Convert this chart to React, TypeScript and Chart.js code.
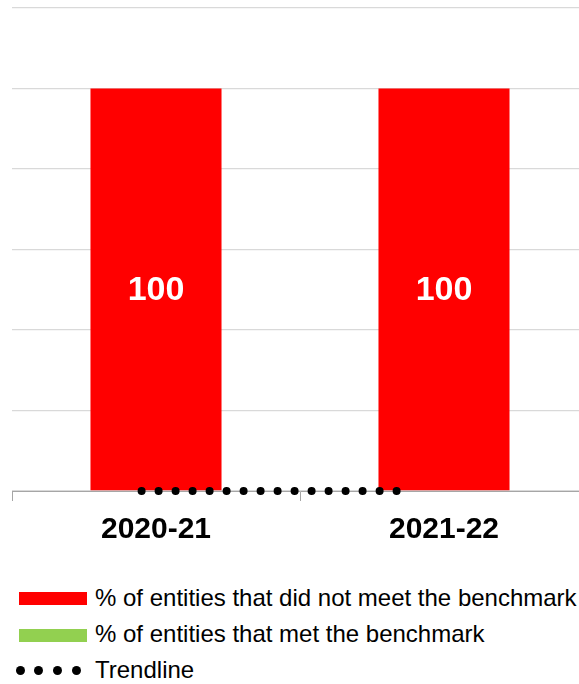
import React, { useEffect, useRef } from "react";
import { Chart, registerables } from "chart.js";

Chart.register(...registerables);

const categories = ["2020-21", "2021-22"];
const notMetValues = [100, 100];
const metValues = [0, 0];
const trendX = [-0.05, 0.84];
const trendY = [0, 0];
const yTicks = [0, 20, 40, 60, 80, 100, 120];

const seriesNames = [
  "% of entities that did not meet the benchmark",
  "% of entities that met the benchmark",
  "Trendline",
];

const RED = "#ff0000";
const GREEN = "#92d050";
const FONT = "'Liberation Sans', Arial, sans-serif";

const valueLabels = {
  id: "valueLabels",
  afterDatasetsDraw(chart: any) {
    const ctx = chart.ctx;
    const dsIndex = chart.data.datasets.findIndex((d: any) => d.label === seriesNames[0]);
    const meta = chart.getDatasetMeta(dsIndex);
    ctx.save();
    ctx.fillStyle = "#ffffff";
    ctx.font = `bold 34px ${FONT}`;
    ctx.textAlign = "center";
    ctx.textBaseline = "middle";
    meta.data.forEach((el: any, i: number) => {
      const v = notMetValues[i];
      if (!v) return;
      ctx.fillText(String(v), el.x, (el.y + el.base) / 2 + 1);
    });
    ctx.restore();
  },
};

export default function App() {
  const ref = useRef<HTMLCanvasElement | null>(null);
  useEffect(() => {
    if (!ref.current) return;
    const chart = new Chart(ref.current, {
      type: "bar",
      data: {
        labels: categories,
        datasets: [
          {
            label: seriesNames[0],
            data: notMetValues,
            backgroundColor: RED,
            stack: "s",
            grouped: false,
            order: 1,
          } as any,
          {
            label: seriesNames[1],
            data: metValues,
            backgroundColor: GREEN,
            stack: "s",
            grouped: false,
            order: 1,
          } as any,
          {
            type: "line" as any,
            label: seriesNames[2],
            data: trendX.map((x, i) => ({ x, y: trendY[i] })) as any,
            xAxisID: "xT",
            stack: "t",
            borderColor: "#000000",
            borderWidth: 8,
            borderDash: [0, 17],
            borderCapStyle: "round",
            pointRadius: 0,
            fill: false,
            clip: false as any,
            order: 0,
          } as any,
        ],
      },
      options: {
        animation: false,
        responsive: true,
        maintainAspectRatio: false,
        layout: { padding: { left: 12, right: 0, top: 8, bottom: 0 } },
        plugins: { legend: { display: false }, tooltip: { enabled: false } },
        datasets: { bar: { categoryPercentage: 1, barPercentage: 0.455 } },
        scales: {
          x: {
            stacked: true,
            offset: true,
            border: { display: true, color: "#a6a6a6", width: 1 },
            grid: {
              display: true,
              offset: true,
              drawOnChartArea: false,
              drawTicks: true,
              tickLength: 10,
              color: "#a6a6a6",
            },
            ticks: {
              color: "#000000",
              font: { family: FONT, size: 30, weight: "bold" },
              padding: 11,
            },
          },
          xT: {
            type: "linear",
            display: false,
            offset: false,
            grid: { offset: false },
            min: -0.5,
            max: 1.5,
          },
          y: {
            stacked: true,
            min: yTicks[0],
            max: yTicks[yTicks.length - 1],
            afterBuildTicks: (s: any) => {
              s.ticks = yTicks.map((v) => ({ value: v }));
            },
            border: { display: false },
            grid: { color: "#d9d9d9", lineWidth: 1.3, drawTicks: false },
            ticks: { display: false },
          },
        },
      },
      plugins: [valueLabels],
    });
    return () => chart.destroy();
  }, []);

  const legendText: React.CSSProperties = {
    position: "absolute",
    left: 95,
    fontFamily: FONT,
    fontSize: 24,
    color: "#000",
    lineHeight: "24px",
    whiteSpace: "nowrap",
  };

  return (
    <div
      style={{
        position: "absolute",
        left: 0,
        top: 0,
        width: 579,
        height: 684,
        background: "#fff",
        overflow: "hidden",
      }}
    >
      <div style={{ position: "absolute", left: 0, top: 0, width: 588, height: 559 }}>
        <canvas ref={ref} />
      </div>
      <div style={{ position: "absolute", left: 19, top: 592, width: 68, height: 13, background: RED }} />
      <div style={{ ...legendText, top: 586 }}>{seriesNames[0]}</div>
      <div style={{ position: "absolute", left: 19, top: 629, width: 68, height: 13, background: GREEN }} />
      <div style={{ ...legendText, top: 622 }}>{seriesNames[1]}</div>
      {[20, 38, 57, 76].map((cx) => (
        <div
          key={cx}
          style={{
            position: "absolute",
            left: cx - 4.5,
            top: 666,
            width: 9,
            height: 9,
            borderRadius: "50%",
            background: "#000",
          }}
        />
      ))}
      <div style={{ ...legendText, top: 658 }}>{seriesNames[2]}</div>
    </div>
  );
}
